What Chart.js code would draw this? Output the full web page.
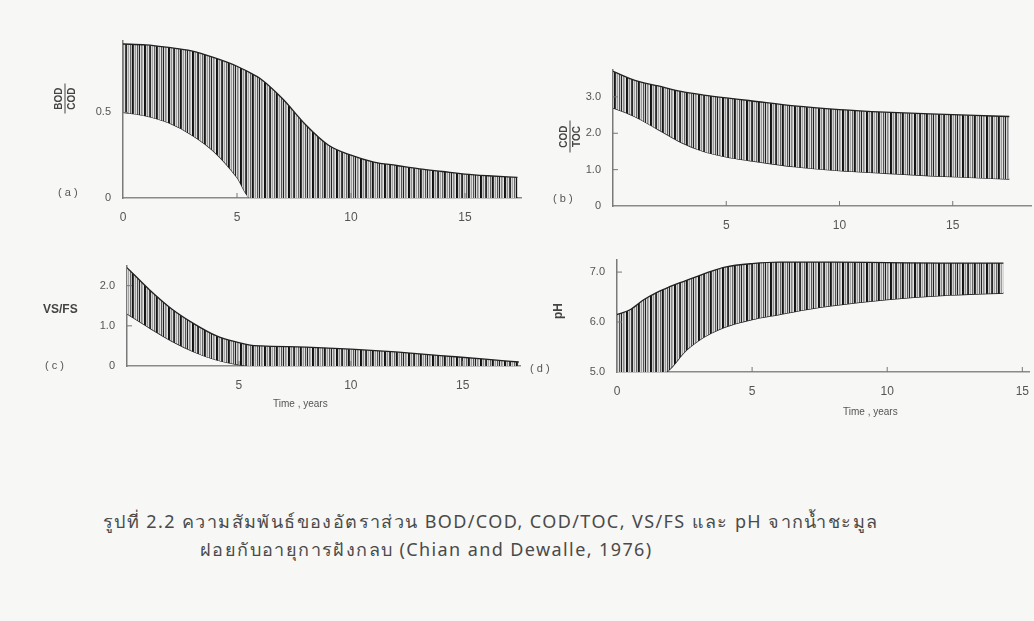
<!DOCTYPE html>
<html>
<head>
<meta charset="utf-8">
<script src="https://cdn.jsdelivr.net/npm/chart.js@4"></script>
<style>
  html, body { margin: 0; padding: 0; }
  body { width: 1034px; height: 621px; background: #f7f7f5; position: relative; overflow: hidden;
         font-family: "Liberation Sans", "DejaVu Sans", sans-serif; color: #555; }
  canvas { position: absolute; }
  .lbl { position: absolute; font-size: 11px; color: #555; white-space: nowrap; line-height: 1; }
  .frac { position: absolute; font-size: 10px; font-weight: bold; color: #444; text-align: center;
          line-height: 1; transform: rotate(-90deg); transform-origin: center center; }
  .frac span { display: block; padding: 1px 0; }
  .frac span:first-child { border-bottom: 1px solid #444; }
  .caption { position: absolute; font-size: 18px; letter-spacing: 1.4px; color: #4a4a4a; white-space: nowrap;
             font-family: "Noto Sans", "DejaVu Sans", sans-serif; }
</style>
</head>
<body>

<canvas id="bodCod"></canvas>
<canvas id="codToc"></canvas>
<canvas id="vsFs"></canvas>
<canvas id="phChart"></canvas>

<div class="frac" style="left:50px; top:86px; width:30px;"><span>BOD</span><span>COD</span></div>
<div class="lbl" style="left:58px; top:187px;">( a )</div>

<div class="frac" style="left:554px; top:124px; width:32px;"><span>COD</span><span>TOC</span></div>
<div class="lbl" style="left:553px; top:193px;">( b )</div>

<div class="lbl" style="left:43px; top:303px; font-size:12px; font-weight:bold; color:#444;">VS/FS</div>
<div class="lbl" style="left:45px; top:360px;">( c )</div>
<div class="lbl" style="left:273px; top:399px; font-size:10px;">Time , years</div>

<div class="lbl" style="left:550px; top:305px; font-size:12px; transform:rotate(-90deg); font-weight:bold; color:#444;">pH</div>
<div class="lbl" style="left:530px; top:363px;">( d )</div>
<div class="lbl" style="left:843px; top:407px; font-size:10px;">Time , years</div>

<div class="caption" style="left:103px; top:507px;">รูปที่ 2.2 ความสัมพันธ์ของอัตราส่วน BOD/COD, COD/TOC, VS/FS และ pH จากน้ำชะมูล</div>
<div class="caption" style="left:200px; top:535px;">ฝอยกับอายุการฝังกลบ (Chian and Dewalle, 1976)</div>

<script>
// landfill age, years, and the upper / lower limits of each band

const bodTime  = [0, 1, 2, 3, 4, 5, 5.6, 6, 7, 8, 9, 10, 11, 12, 13, 14, 15, 16, 17.3];
const bodUpper = [0.90, 0.895, 0.88, 0.86, 0.82, 0.77, 0.73, 0.70, 0.58, 0.43, 0.31, 0.25, 0.21, 0.19, 0.17, 0.155, 0.14, 0.13, 0.12];
const bodLower = [0.50, 0.48, 0.44, 0.37, 0.27, 0.12, 0, 0, 0, 0, 0, 0, 0, 0, 0, 0, 0, 0, 0];

const codTime  = [0, 1, 2, 3, 4, 5, 6, 8, 10, 12, 14, 16, 17.5];
const codUpper = [3.7, 3.45, 3.3, 3.15, 3.05, 2.97, 2.9, 2.75, 2.65, 2.58, 2.53, 2.49, 2.46];
const codLower = [2.7, 2.45, 2.1, 1.75, 1.5, 1.35, 1.25, 1.08, 0.97, 0.9, 0.83, 0.78, 0.74];

const vsTime  = [0, 1, 2, 3, 4, 5, 5.5, 6, 8, 10, 12, 14, 16, 17.5];
const vsUpper = [2.45, 1.9, 1.42, 1.05, 0.75, 0.58, 0.52, 0.5, 0.47, 0.42, 0.35, 0.26, 0.17, 0.1];
const vsLower = [1.3, 0.95, 0.62, 0.35, 0.15, 0.03, 0, 0, 0, 0, 0, 0, 0, 0];

const phTime  = [0, 0.5, 1, 1.5, 1.8, 2, 2.5, 3, 3.5, 4, 5, 6, 7, 8, 10, 12, 14.3];
const phUpper = [6.15, 6.25, 6.45, 6.6, 6.67, 6.72, 6.82, 6.92, 7.02, 7.1, 7.17, 7.2, 7.2, 7.2, 7.19, 7.18, 7.18];
const phLower = [5.0, 5.0, 5.0, 5.0, 5.0, 5.08, 5.4, 5.62, 5.78, 5.9, 6.05, 6.15, 6.25, 6.33, 6.45, 6.53, 6.58];

const xTicks = [0, 5, 10, 15];

// vertical hatching used to fill the bands: heavy dark strokes with grey between
const hatchShades = ['#111', '#1c1c1c', '#c9c9c9', '#8e8e8e', '#dcdcdc', '#444', '#2a2a2a', '#d4d4d4',
                     '#a5a5a5', '#e2e2e2', '#666', '#bdbdbd', '#151515', '#3a3a3a', '#cfcfcf', '#9a9a9a',
                     '#e0e0e0', '#555', '#c4c4c4', '#222', '#d9d9d9', '#888', '#b0b0b0', '#e4e4e4'];

function makeHatch() {
    const c = document.createElement('canvas');
    c.width = hatchShades.length;
    c.height = 4;
    const g = c.getContext('2d');
    hatchShades.forEach((col, i) => {
        g.fillStyle = col;
        g.fillRect(i, 0, 1, 4);
    });
    return g.createPattern(c, 'repeat');
}

const hatch = makeHatch();

// small tick marks drawn inward from both axes
const innerTicks = {
    id: 'innerTicks',
    afterDraw(chart) {
        const { ctx, scales: { x, y } } = chart;
        ctx.save();
        ctx.strokeStyle = '#777';
        ctx.lineWidth = 1;
        x.ticks.forEach(t => {
            if (t.value === x.min) return;
            const px = x.getPixelForValue(t.value);
            ctx.beginPath();
            ctx.moveTo(px, y.bottom);
            ctx.lineTo(px, y.bottom - 5);
            ctx.stroke();
        });
        y.ticks.forEach(t => {
            if (t.value === y.min) return;
            const py = y.getPixelForValue(t.value);
            ctx.beginPath();
            ctx.moveTo(x.left, py);
            ctx.lineTo(x.left + 5, py);
            ctx.stroke();
        });
        ctx.restore();
    }
};

function toPoints(time, vals) {
    return time.map((t, i) => ({ x: t, y: vals[i] }));
}

function bandChart(id, p) {
    const el = document.getElementById(id);
    const areaW = p.xMax * p.pxX;
    const areaH = (p.yMax - p.yMin) * p.pxY;
    const top = p.zeroY - areaH;
    const padTop = 10;
    const axisH = 40;
    el.style.left = p.left + 'px';
    el.style.top = (top - padTop) + 'px';
    el.width = (p.axisX - p.left) + areaW;
    el.height = padTop + areaH + axisH;
    el.style.width = el.width + 'px';
    el.style.height = el.height + 'px';

    new Chart(el, {
        type: 'line',
        data: {
            datasets: [{
                data: toPoints(p.time, p.upper),
                borderColor: '#222',
                borderWidth: 1.3,
                backgroundColor: hatch,
                fill: '+1',
                pointRadius: 0,
                cubicInterpolationMode: 'monotone'
            }, {
                data: toPoints(p.time, p.lower),
                borderColor: '#222',
                borderWidth: 1.3,
                fill: false,
                pointRadius: 0,
                cubicInterpolationMode: 'monotone'
            }]
        },
        options: {
            responsive: false,
            animation: false,
            layout: { autoPadding: false, padding: { top: padTop, right: 0, bottom: 0, left: 0 } },
            plugins: { legend: { display: false }, tooltip: { enabled: false } },
            scales: {
                x: {
                    type: 'linear',
                    min: 0,
                    max: p.xMax,
                    afterFit: s => { s.height = axisH; },
                    afterBuildTicks: s => { s.ticks = xTicks.filter(v => v <= p.xMax).map(v => ({ value: v })); },
                    grid: { display: false },
                    border: { color: '#8a8a8a', width: 1.5 },
                    ticks: {
                        color: '#555',
                        font: { size: 12 },
                        padding: 4,
                        maxRotation: 0,
                        callback: v => (v === 0 && !p.showZero) ? '' : String(v)
                    }
                },
                y: {
                    min: p.yMin,
                    max: p.yMax,
                    afterFit: s => { s.width = p.axisX - p.left; },
                    afterBuildTicks: s => { s.ticks = p.yTicks.map(v => ({ value: v })); },
                    grid: { display: false },
                    border: { color: '#7a7a7a', width: 1.5 },
                    ticks: {
                        color: '#555',
                        font: { size: 11 },
                        padding: 4,
                        callback: v => (v === 0 ? '0' : v.toFixed(1))
                    }
                }
            }
        },
        plugins: [innerTicks]
    });
}

bandChart('bodCod', {
    left: 0, axisX: 123, zeroY: 198, pxX: 22.8, pxY: 172,
    xMax: 17.5, yMin: 0, yMax: 0.92, yTicks: [0, 0.5], showZero: true,
    time: bodTime, upper: bodUpper, lower: bodLower
});

bandChart('codToc', {
    left: 530, axisX: 613, zeroY: 207, pxX: 22.7, pxY: 36.7,
    xMax: 18.5, yMin: 0, yMax: 3.75, yTicks: [0, 1, 2, 3], showZero: false,
    time: codTime, upper: codUpper, lower: codLower
});

bandChart('vsFs', {
    left: 0, axisX: 127, zeroY: 366, pxX: 22.4, pxY: 40.5,
    xMax: 17.6, yMin: 0, yMax: 2.5, yTicks: [0, 1, 2], showZero: false,
    time: vsTime, upper: vsUpper, lower: vsLower
});

bandChart('phChart', {
    left: 530, axisX: 617, zeroY: 373, pxX: 27.3, pxY: 50.5,
    xMax: 15.25, yMin: 5, yMax: 7.25, yTicks: [5, 6, 7], showZero: true,
    time: phTime, upper: phUpper, lower: phLower
});
</script>
</body>
</html>
